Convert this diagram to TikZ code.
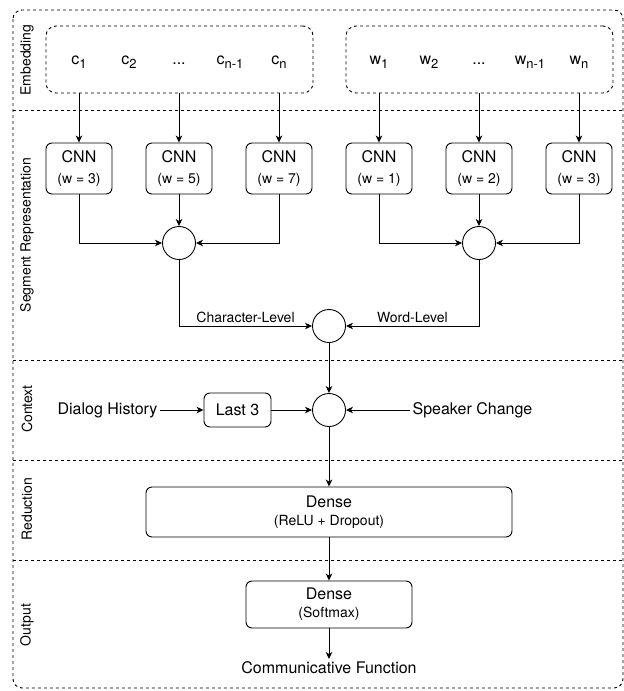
\documentclass[tikz,border=0pt]{standalone}
\usepackage{fontspec}
\setmainfont{TeX Gyre Heros}
\usetikzlibrary{arrows.meta}

\newcommand{\bas}[1]{\raisebox{-4pt}{\fontsize{13}{13}\selectfont #1}}

\begin{document}
\begin{tikzpicture}[x=1pt,y=-1pt,line width=0.9pt,
    fleche/.style={-{Stealth[length=7pt,width=6.5pt,inset=2pt]}},
    pointille/.style={dash pattern=on 3pt off 3pt},
    bloc/.style={draw,rounded corners=6pt,align=center,inner sep=0pt,
      font=\fontsize{16}{21}\selectfont},
    somme/.style={draw,circle,minimum size=33pt,inner sep=0pt},
    etiq/.style={rotate=90,inner sep=0pt,font=\fontsize{14}{16}\selectfont},
    txt/.style={inner sep=2pt,font=\fontsize{16}{19}\selectfont},
    petit/.style={inner sep=3pt,font=\fontsize{14}{16}\selectfont}]
  \useasboundingbox (0,0) rectangle (624,691);
  % cadre et couches
  \draw[pointille,rounded corners=9pt] (13,10) rectangle (623,688);
  \draw[pointille] (13,110) -- (623,110);
  \draw[pointille] (13,360) -- (623,360);
  \draw[pointille] (13,460) -- (623,460);
  \draw[pointille] (13,560) -- (623,560);
  \node[etiq] (lemb) at (27,60) {Embedding};
  \node[etiq] (lseg) at (27,235) {Segment Representation};
  \node[etiq] (lctx) at (27,409) {Context};
  \node[etiq] (lred) at (27,509) {Reduction};
  \node[etiq] (lout) at (27,625) {Output};

  % embeddings
  \node[draw,pointille,rounded corners=10pt,minimum width=267pt,minimum height=67pt] (cemb) at (179.5,59.5) {};
  \node[draw,pointille,rounded corners=10pt,minimum width=267pt,minimum height=67pt] (wemb) at (479.5,59.5) {};
  \node[txt,anchor=base] (c1) at (79,64) {c\bas{1}};
  \node[txt,anchor=base] (c2) at (129,64) {c\bas{2}};
  \node[txt,anchor=base] (cdots) at (179,64) {...};
  \node[txt,anchor=base] (cm) at (230,64) {c\bas{n-1}};
  \node[txt,anchor=base] (cn) at (279,64) {c\bas{n}};
  \node[txt,anchor=base] (w1) at (379,64) {w\bas{1}};
  \node[txt,anchor=base] (w2) at (429,64) {w\bas{2}};
  \node[txt,anchor=base] (wdots) at (479,64) {...};
  \node[txt,anchor=base] (wm) at (530,64) {w\bas{n-1}};
  \node[txt,anchor=base] (wn) at (579,64) {w\bas{n}};

  % CNN
  \node[bloc,minimum width=66pt,minimum height=51pt] (cnnA) at (79,168.5) {CNN\\{\fontsize{14}{21}\selectfont(w = 3)}};
  \node[bloc,minimum width=66pt,minimum height=51pt] (cnnB) at (179,168.5) {CNN\\{\fontsize{14}{21}\selectfont(w = 5)}};
  \node[bloc,minimum width=66pt,minimum height=51pt] (cnnC) at (279,168.5) {CNN\\{\fontsize{14}{21}\selectfont(w = 7)}};
  \node[bloc,minimum width=66pt,minimum height=51pt] (cnnD) at (379,168.5) {CNN\\{\fontsize{14}{21}\selectfont(w = 1)}};
  \node[bloc,minimum width=66pt,minimum height=51pt] (cnnE) at (479,168.5) {CNN\\{\fontsize{14}{21}\selectfont(w = 2)}};
  \node[bloc,minimum width=66pt,minimum height=51pt] (cnnF) at (579,168.5) {CNN\\{\fontsize{14}{21}\selectfont(w = 3)}};
  \draw[fleche] (cemb.south -| cnnA) -- (cnnA);
  \draw[fleche] (cemb.south -| cnnB) -- (cnnB);
  \draw[fleche] (cemb.south -| cnnC) -- (cnnC);
  \draw[fleche] (wemb.south -| cnnD) -- (cnnD);
  \draw[fleche] (wemb.south -| cnnE) -- (cnnE);
  \draw[fleche] (wemb.south -| cnnF) -- (cnnF);

  % sommes
  \node[somme] (csum) at (179,243) {};
  \node[somme] (wsum) at (479,243) {};
  \node[somme] (seg) at (329,326) {};
  \draw[fleche] (cnnA.south) |- (csum.west);
  \draw[fleche] (cnnB.south) -- (csum.north);
  \draw[fleche] (cnnC.south) |- (csum.east);
  \draw[fleche] (cnnD.south) |- (wsum.west);
  \draw[fleche] (cnnE.south) -- (wsum.north);
  \draw[fleche] (cnnF.south) |- (wsum.east);
  \draw[fleche] (csum.south) |- node[petit,pos=0.75,above] (lchar) {Character-Level} (seg.west);
  \draw[fleche] (wsum.south) |- node[petit,pos=0.75,above] (lword) {Word-Level} (seg.east);

  % contexte
  \node[txt] (hist) at (107.5,410) {Dialog History};
  \node[bloc,minimum width=67pt,minimum height=34pt] (last) at (237.5,410) {Last 3};
  \node[somme] (ctx) at (329,410) {};
  \node[txt] (spk) at (472.5,410) {Speaker Change};
  \draw[fleche] (seg.south) -- (ctx.north);
  \draw[fleche] (hist.east) -- (last.west);
  \draw[fleche] (last.east) -- (ctx.west);
  \draw[fleche] (spk.west) -- (ctx.east);

  % reduction et sortie
  \node[bloc,minimum width=366pt,minimum height=50pt,font=\fontsize{16}{18}\selectfont] (dense) at (329,512) {Dense\\{\fontsize{14}{18}\selectfont(ReLU + Dropout)}};
  \node[bloc,minimum width=166pt,minimum height=47pt,font=\fontsize{16}{18}\selectfont] (soft) at (329,604.5) {Dense\\{\fontsize{14}{18}\selectfont(Softmax)}};
  \node[txt,anchor=north] (fct) at (329,659) {Communicative Function};
  \draw[fleche] (ctx.south) -- (dense.north);
  \draw[fleche] (dense.south) -- (soft.north);
  \draw[fleche] (soft.south) -- (fct.north);
\end{tikzpicture}
\end{document}
